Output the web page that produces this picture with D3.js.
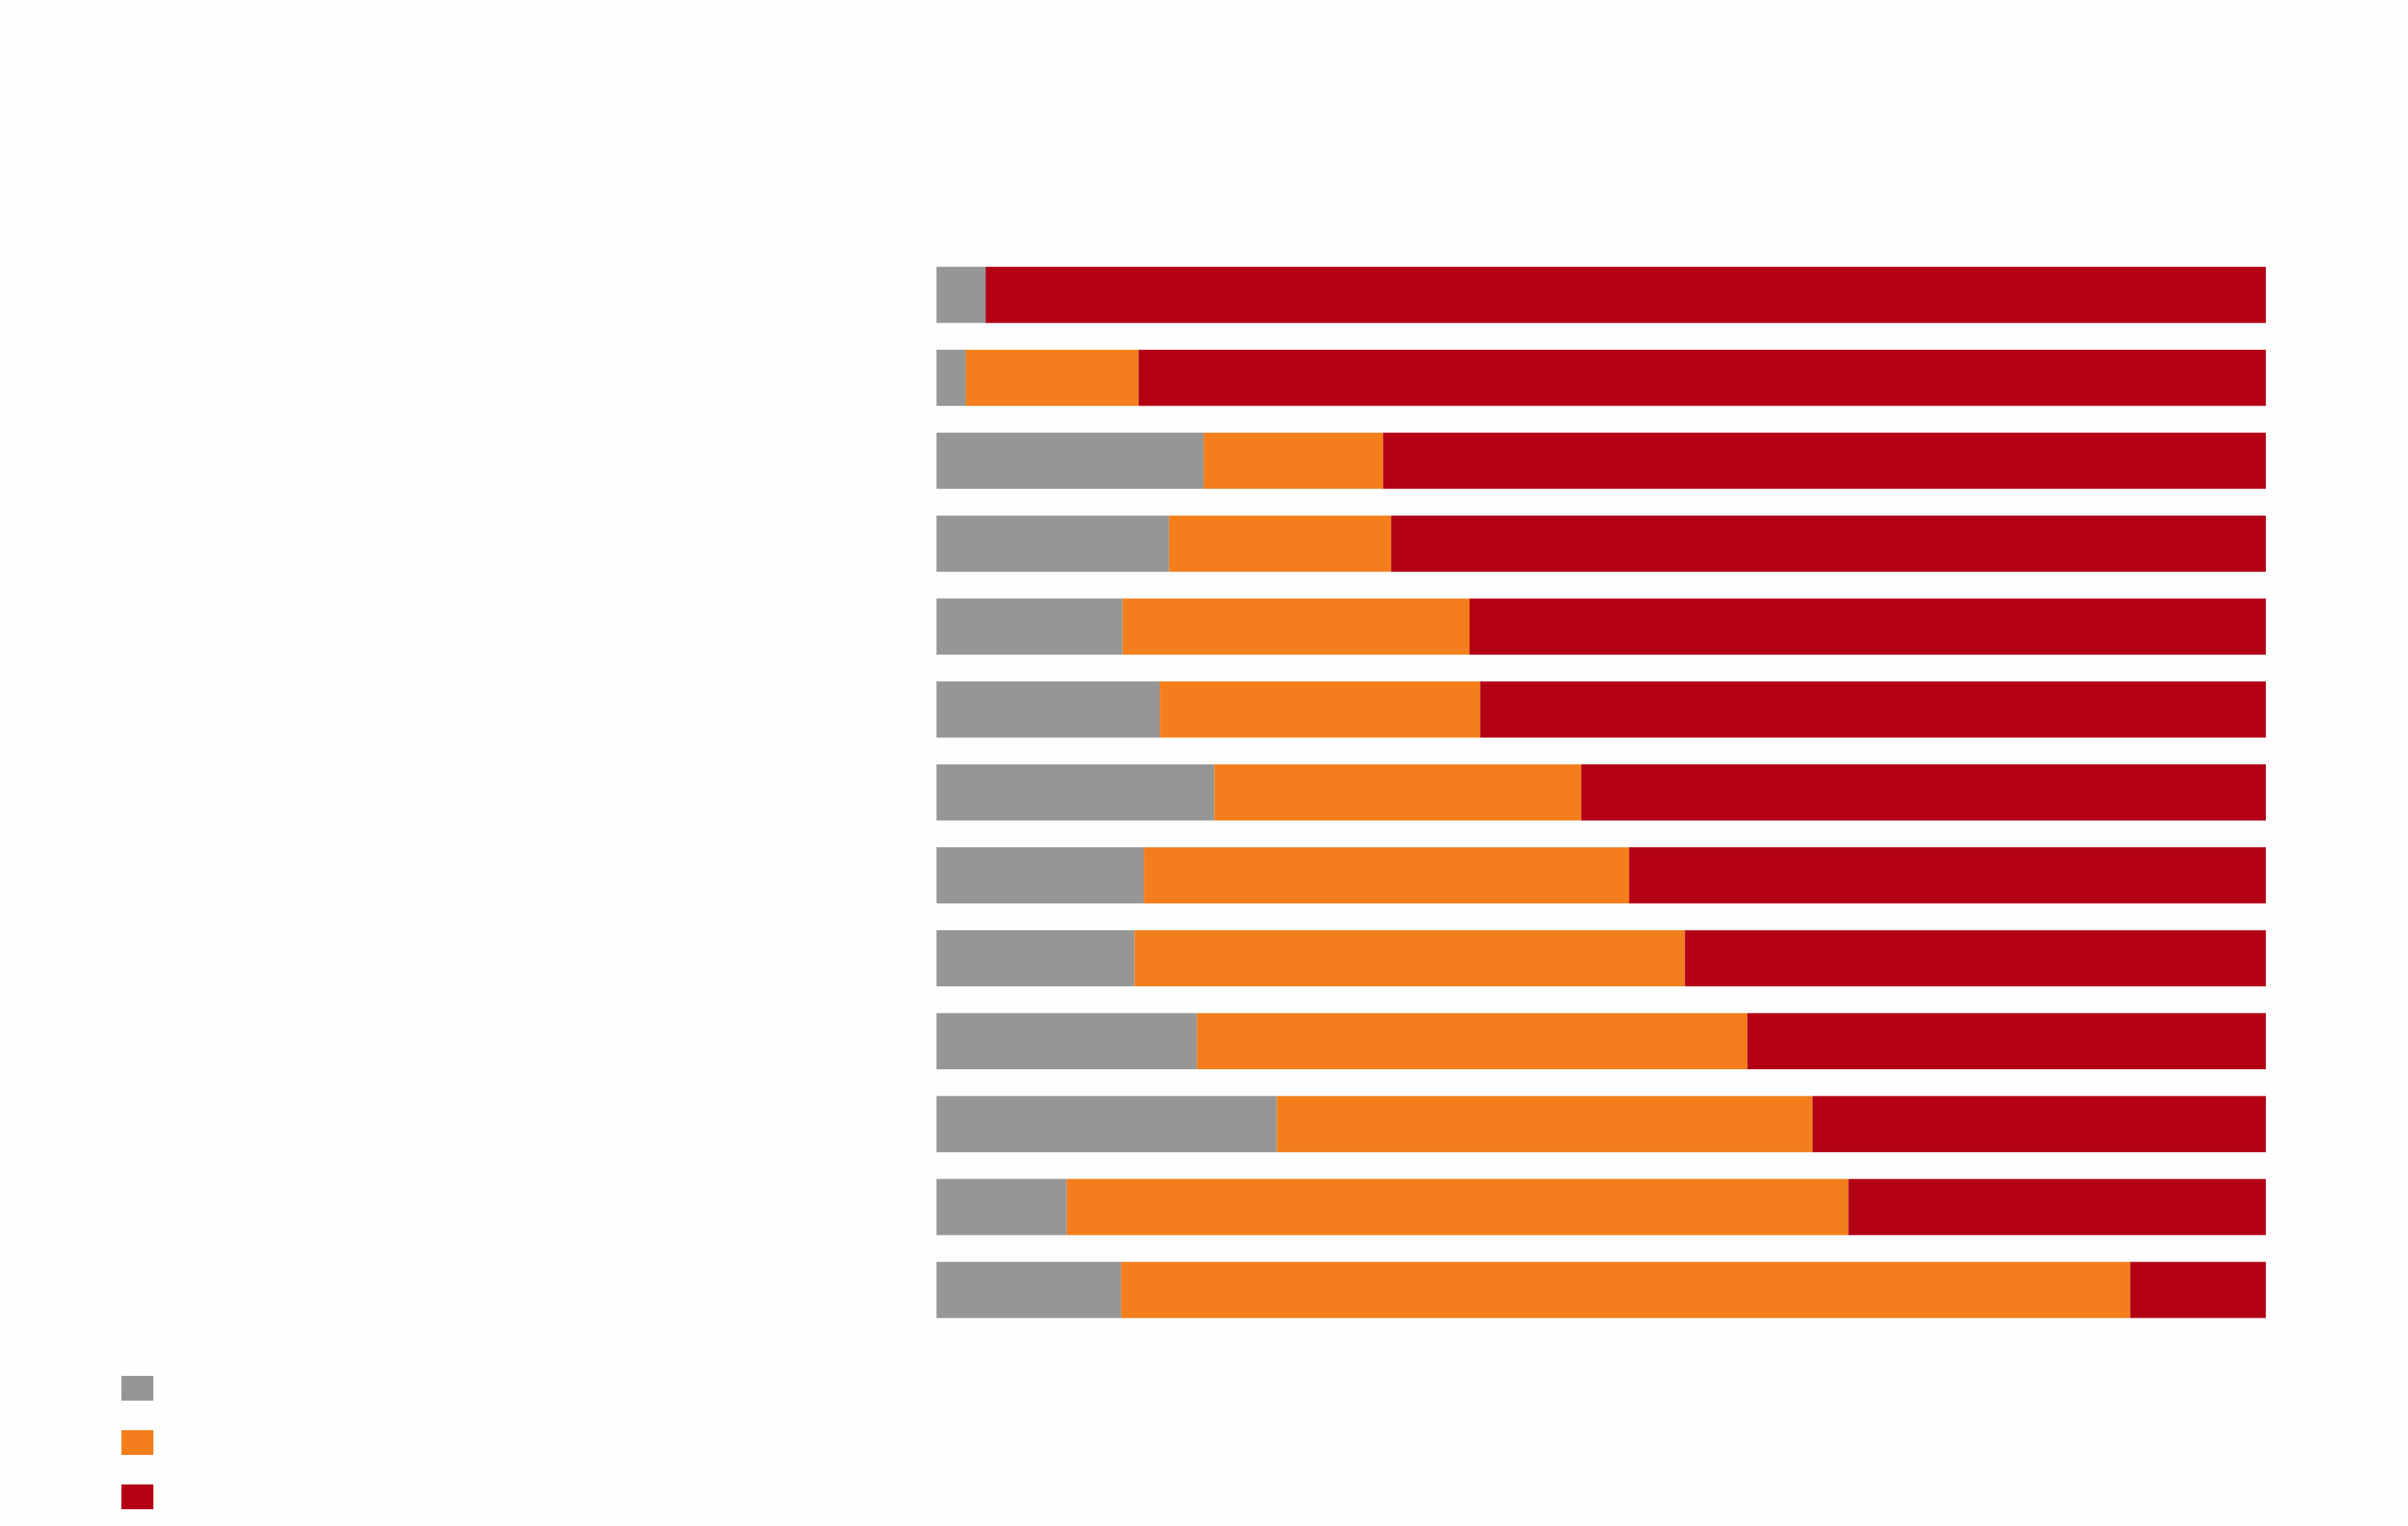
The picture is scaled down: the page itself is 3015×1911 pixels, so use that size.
<!DOCTYPE html>
<html>
<head>
<meta charset="utf-8">
<script src="https://cdn.jsdelivr.net/npm/d3@7"></script>
<style>
  html, body { margin: 0; padding: 0; background: #fefefe; }
  svg { display: block; }
</style>
</head>
<body>
<div id="chart"></div>
<script>
// rows, top to bottom (no labels shown in the picture)
var rows = ["r1", "r2", "r3", "r4", "r5", "r6", "r7", "r8", "r9", "r10", "r11", "r12", "r13"];

// series names and shares (%)
var seriesKeys = ["gray", "orange", "red"];
var grayVals   = [3.7, 2.2, 20.1, 17.5, 14.0, 16.8, 20.9, 15.6, 14.9, 19.6, 25.6,  9.8, 13.9];
var orangeVals = [0.0, 13.0, 13.5, 16.7, 26.1, 24.1, 27.6, 36.5, 41.4, 41.4, 40.3, 58.8, 75.9];
var redVals    = [96.3, 84.8, 66.4, 65.8, 59.9, 59.1, 51.5, 47.9, 43.7, 39.0, 34.1, 31.4, 10.2];

var colors = ["#969696", "#f37e1b", "#b30015"];

var width = 3015, height = 1911;

var svg = d3.select("#chart")
  .append("svg")
    .attr("width", width)
    .attr("height", height);

// build table for d3.stack
var table = rows.map(function(r, i) {
  return { row: r, gray: grayVals[i], orange: orangeVals[i], red: redVals[i] };
});

var stacked = d3.stack().keys(seriesKeys)(table);

// scales
var x = d3.scaleLinear()
  .domain([0, 100])
  .range([1172.5, 2837]);

var y = d3.scaleBand()
  .domain(rows)
  .range([300.6, 1684.1])
  .paddingInner(0.323)
  .paddingOuter(0.323);

var color = d3.scaleOrdinal()
  .domain(seriesKeys)
  .range(colors);

// bars
svg.append("g")
  .selectAll("g")
  .data(stacked)
  .enter()
  .append("g")
    .attr("fill", function(d) { return color(d.key); })
  .selectAll("rect")
  .data(function(d) { return d; })
  .enter()
  .append("rect")
    .attr("x", function(d) { return x(d[0]); })
    .attr("y", function(d) { return y(d.data.row); })
    .attr("width", function(d) { return Math.max(0, x(d[1]) - x(d[0])); })
    .attr("height", y.bandwidth());

// legend swatches (labels are blank in the reference)
var ly = d3.scaleBand()
  .domain(seriesKeys)
  .range([1709.4, 1903.6])
  .paddingInner(0.544)
  .paddingOuter(0.2);

svg.append("g")
  .selectAll("rect")
  .data(seriesKeys)
  .enter()
  .append("rect")
    .attr("x", 152)
    .attr("y", function(d) { return ly(d); })
    .attr("width", 40)
    .attr("height", ly.bandwidth())
    .attr("fill", function(d) { return color(d); });
</script>
</body>
</html>
